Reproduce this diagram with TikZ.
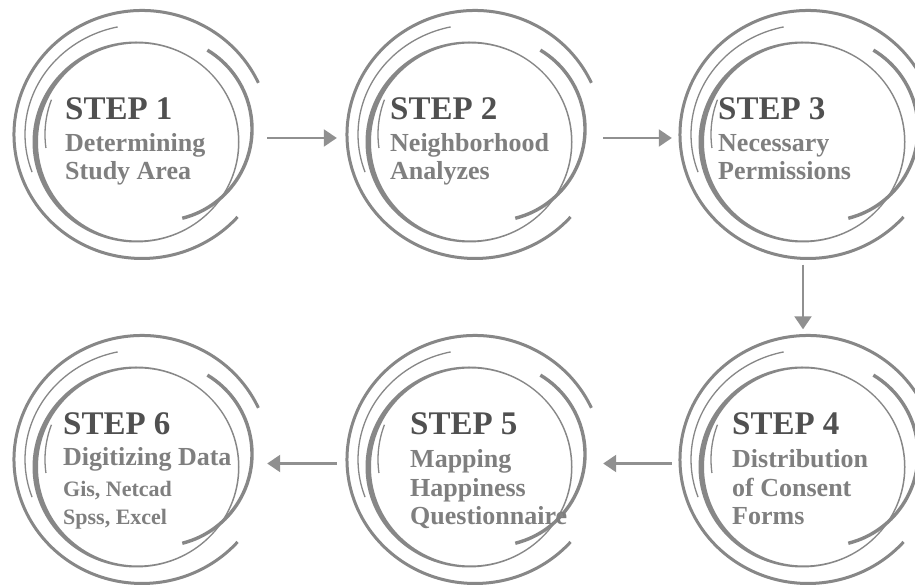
\documentclass[tikz,border=0pt]{standalone}
\usepackage{fontspec}
\setmainfont{Liberation Serif}
\usetikzlibrary{arrows.meta,shapes.geometric}

\definecolor{ringgray}{HTML}{878787}
\definecolor{arrowgray}{HTML}{909090}
\definecolor{headgray}{HTML}{505050}
\definecolor{descgray}{HTML}{7F7F7F}

\tikzset{
  ring/.style={draw=ringgray},
  hub/.style={ellipse, minimum width=256pt, minimum height=248pt, inner sep=0pt},
  head/.style={font=\fontsize{33}{33}\selectfont\bfseries, text=headgray, inner sep=0pt, anchor=base west},
  % multi-line labels: base is the last line
  desc/.style={font=\fontsize{26}{28.5}\selectfont\bfseries, text=descgray, inner sep=0pt, align=left, anchor=base west},
  tool/.style={desc, font=\fontsize{22}{28.5}\selectfont\bfseries},
  flow/.style={draw=arrowgray, line width=2.2pt, -{Triangle[length=13pt,width=17pt]}},
  % the set of arcs round each step
  rings/.pic={
    \draw[ring, line width=3pt] (24.6:128 and 124) arc[start angle=24.6, end angle=318.3, x radius=128, y radius=124];
    \draw[ring, line width=1.3pt] (102:117 and 110) arc[start angle=102, end angle=200, x radius=117, y radius=110];
    \fill[ringgray, even odd rule] (-6,-7.5) ellipse[x radius=103.5, y radius=100.5]
      (-4,-7.5) ellipse[x radius=100, y radius=98.5];
    \draw[ring, line width=3.4pt, shift={(18,5.5)}] (59:92) arc[start angle=59, end angle=-76, radius=92];
    \draw[ring, line width=1.3pt] (159:97) arc[start angle=159, end angle=188, radius=97];
  }
}

\begin{document}
\begin{tikzpicture}[x=1pt,y=1pt]
  \fill[white] (0,0) rectangle (915,585);
  \useasboundingbox (0,0) rectangle (915,585);

  % step centres
  \node (s1) [hub] at (142,450.5) {};
  \node (s2) [hub] at (475,450.5) {};
  \node (s3) [hub] at (808,450.5) {};
  \node (s4) [hub] at (808,125.5) {};
  \node (s5) [hub] at (475,125.5) {};
  \node (s6) [hub] at (142,125.5) {};
  \foreach \s in {s1,s2,s3,s4,s5,s6}
    \pic at (\s) {rings};

  % labels
  \node (h1) [head] at (65,465) {STEP 1};
  \node (d1) [desc] at (65,405) {Determining\\Study Area};
  \node (h2) [head] at (390,465) {STEP 2};
  \node (d2) [desc] at (390,405) {Neighborhood\\Analyzes};
  \node (h3) [head] at (718,465) {STEP 3};
  \node (d3) [desc] at (718,405) {Necessary\\Permissions};
  \node (h4) [head] at (732,150) {STEP 4};
  \node (d4) [desc] at (732,60) {Distribution\\of Consent\\Forms};
  \node (h5) [head] at (410,150) {STEP 5};
  \node (d5) [desc] at (410,60) {Mapping\\Happiness\\Questionnaire};
  \node (h6) [head] at (63,150) {STEP 6};
  \node (d6) [desc] at (63,119) {Digitizing Data};
  \node (t6) [tool] at (63,60) {Gis, Netcad\\Spss, Excel};

  % arrows
  \draw[flow, shorten <=-3pt, shorten >=10pt] ([yshift=-3.5pt]s1.east) -- ([yshift=-3.5pt]s2.west);
  \draw[flow, shorten >=8pt] ([yshift=-3.5pt]s2.east) -- ([yshift=-3.5pt]s3.west);
  \draw[flow, shorten <=6pt, shorten >=6pt] ([xshift=-5pt]s3.south) -- ([xshift=-5pt]s4.north);
  \draw[flow, shorten <=8pt] ([yshift=-4pt]s4.west) -- ([yshift=-4pt]s5.east);
  \draw[flow, shorten <=10pt, shorten >=-3pt] ([yshift=-4pt]s5.west) -- ([yshift=-4pt]s6.east);
\end{tikzpicture}
\end{document}
